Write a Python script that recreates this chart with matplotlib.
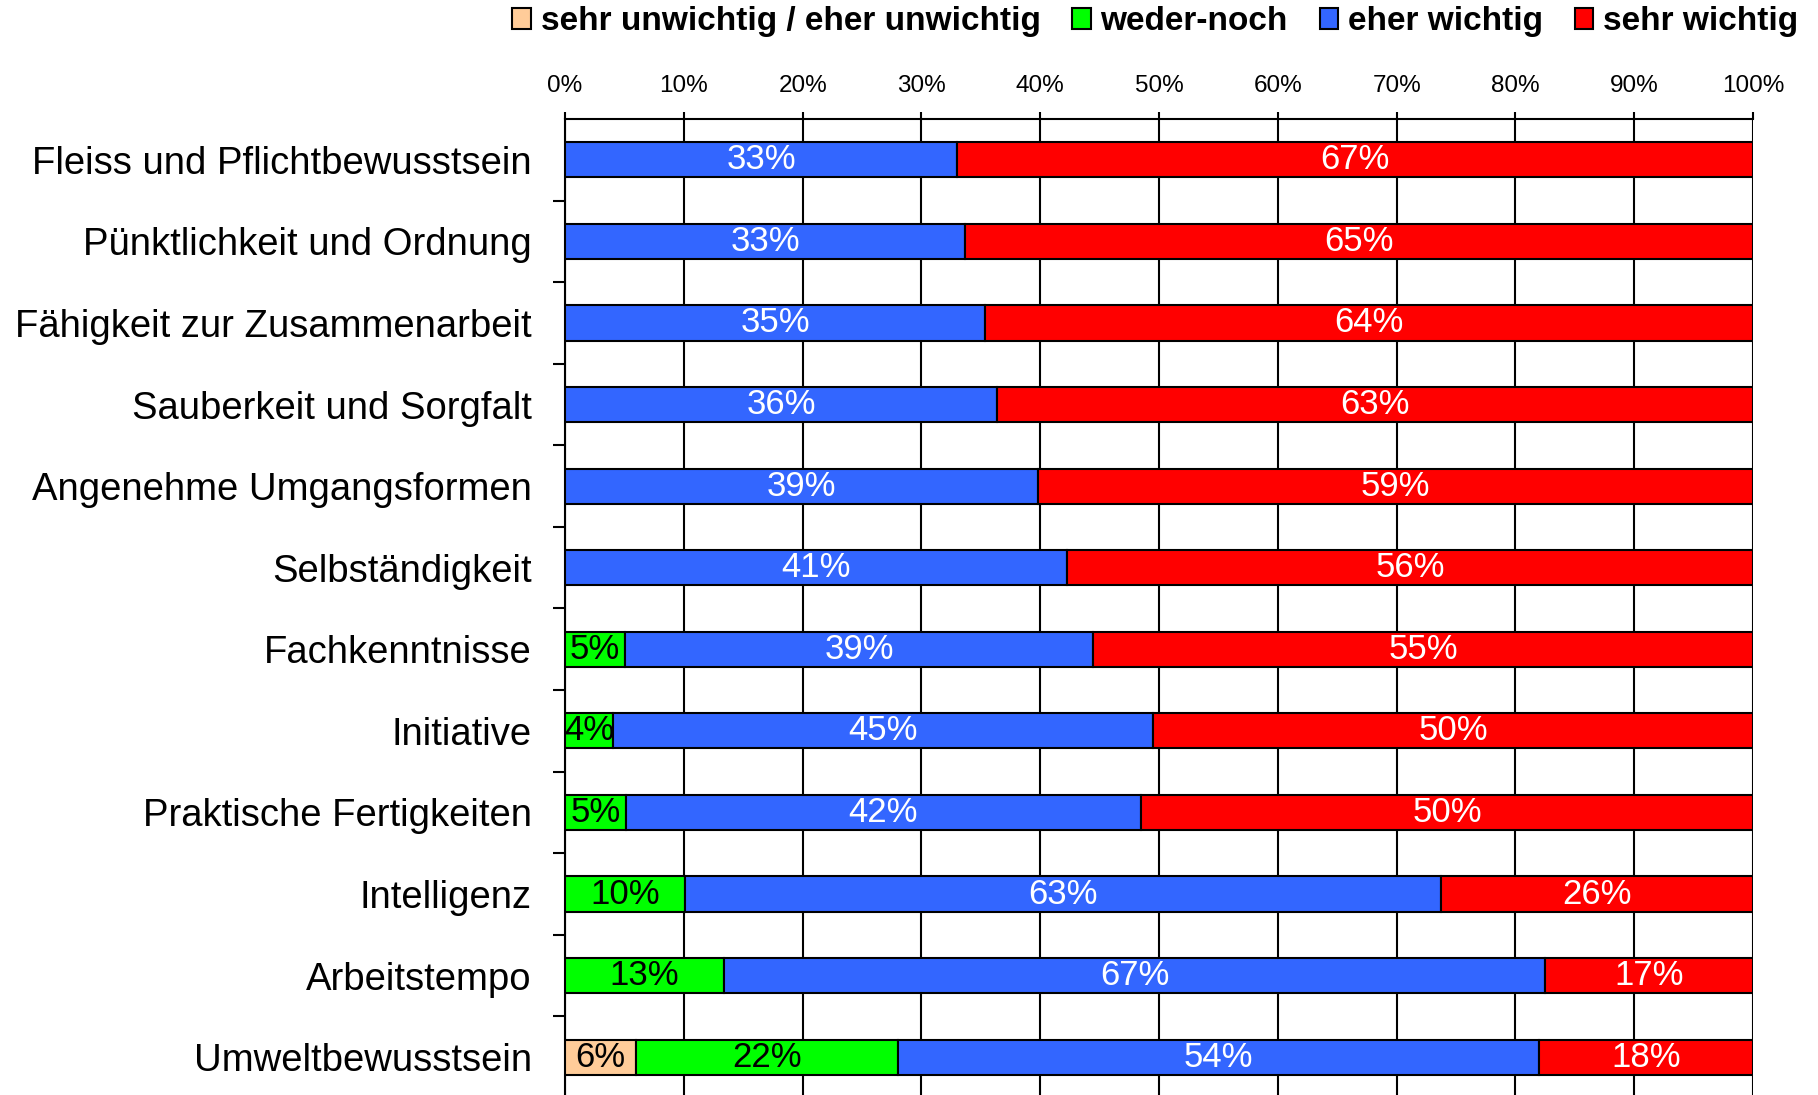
import matplotlib
matplotlib.use('Agg')
import matplotlib.pyplot as plt
from matplotlib.patches import Patch
import numpy as np

plt.rcParams['font.family'] = ['Liberation Sans', 'DejaVu Sans']

categories = ['Fleiss und Pflichtbewusstsein', 'Pünktlichkeit und Ordnung',
              'Fähigkeit zur Zusammenarbeit', 'Sauberkeit und Sorgfalt',
              'Angenehme Umgangsformen', 'Selbständigkeit', 'Fachkenntnisse',
              'Initiative', 'Praktische Fertigkeiten', 'Intelligenz',
              'Arbeitstempo', 'Umweltbewusstsein']

series_names = ['sehr unwichtig / eher unwichtig', 'weder-noch', 'eher wichtig', 'sehr wichtig']
unwichtig = [0, 0, 0, 0, 0, 0, 0, 0, 0, 0, 0, 6]
weder_noch = [0, 0, 0, 0, 0, 0, 5, 4, 5, 10, 13, 22]
eher_wichtig = [33, 33, 35, 36, 39, 41, 39, 45, 42, 63, 67, 54]
sehr_wichtig = [67, 65, 64, 63, 59, 56, 55, 50, 50, 26, 17, 18]

colors = ['#FFCC99', '#00FF00', '#3366FF', '#FF0000']
text_colors = ['black', 'black', 'white', 'white']
x_ticks = [0, 10, 20, 30, 40, 50, 60, 70, 80, 90, 100]

# 100%-gestapelt: jede Zeile auf ihre Summe normiert
data = np.array([unwichtig, weder_noch, eher_wichtig, sehr_wichtig], dtype=float)
share = data / data.sum(axis=0) * 100

fig = plt.figure(figsize=(18.18, 10.95), dpi=100)
ax = fig.add_axes([0.3108, -0.0027, 0.6535, 0.894])

y = np.arange(len(categories))
left = np.zeros(len(categories))
for i in range(4):
    ax.barh(y, share[i], left=left, height=0.43, color=colors[i],
            edgecolor='black', linewidth=1.5, zorder=3)
    for j in range(len(categories)):
        if data[i, j] > 0:
            ax.text(left[j] + share[i, j] / 2, y[j], '%d%%' % data[i, j],
                    ha='center', va='center', fontsize=25,
                    color=text_colors[i], zorder=4)
    left += share[i]

ax.set_xlim(0, 100)
ax.set_ylim(len(categories) - 0.5, -0.5)
ax.set_xticks(x_ticks)
ax.set_xticklabels(['%d%%' % t for t in x_ticks], fontsize=17.5)
ax.xaxis.tick_top()
ax.tick_params(axis='x', direction='out', length=5, width=1.5, pad=11)
ax.grid(axis='x', color='black', linewidth=1.5, zorder=0)

ax.set_yticks(y)
ax.set_yticklabels(categories, fontsize=27.5)
ax.set_yticks(np.arange(len(categories)) + 0.5, minor=True)
ax.tick_params(axis='y', which='major', length=0, pad=24)
ax.tick_params(axis='y', which='minor', length=9, width=1.5, direction='out')

for s in ['right', 'bottom']:
    ax.spines[s].set_visible(False)
for s in ['top', 'left']:
    ax.spines[s].set_linewidth(1.5)

handles = [Patch(facecolor=c, edgecolor='black', linewidth=1.5) for c in colors]
fig.legend(handles, series_names, loc='center right', bbox_to_anchor=(1.0, 0.98),
           ncol=4, frameon=False, handlelength=0.55, handleheight=0.6,
           handletextpad=0.3, columnspacing=0.95, borderaxespad=0.2,
           prop={'weight': 'bold', 'size': 24})

fig.savefig('out.png', dpi=100)
